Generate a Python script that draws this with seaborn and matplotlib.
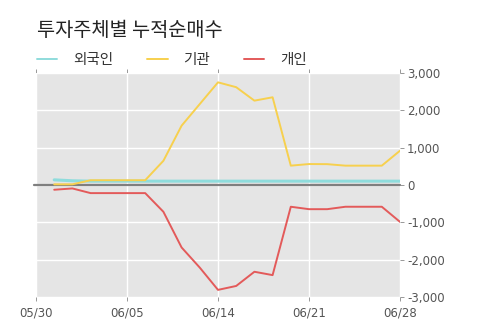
import matplotlib
matplotlib.use("Agg")
import matplotlib.pyplot as plt
import seaborn as sns
import pandas as pd
import numpy as np
from matplotlib.lines import Line2D

# data
tick_labels = ["05/30", "06/05", "06/14", "06/21", "06/28"]
tick_pos = [-1, 4, 9, 14, 19]
foreign = [140, 115, 105, 105, 105, 105, 105, 105, 105, 105,
           105, 105, 105, 105, 105, 105, 105, 105, 105, 105]
institution = [20, 20, 130, 130, 130, 130, 650, 1590, 2170, 2750,
               2620, 2260, 2350, 520, 563, 560, 520, 520, 520, 920]
individual = [-125, -90, -215, -215, -215, -215, -715, -1670, -2210, -2805,
              -2700, -2320, -2410, -580, -645, -645, -580, -580, -580, -985]
series_names = ["외국인", "기관", "개인"]
y_ticks = [-3000, -2000, -1000, 0, 1000, 2000, 3000]

sns.set_theme(style="darkgrid")
plt.rcParams['font.family'] = ['Noto Sans CJK KR', 'DejaVu Sans']

idx = list(range(len(foreign)))
df = pd.DataFrame({
    "x": idx * 3,
    "value": foreign + institution + individual,
    "series": [series_names[0]] * len(foreign) + [series_names[1]] * len(institution) + [series_names[2]] * len(individual),
})

fig = plt.figure(figsize=(5, 3.23), dpi=100)
ax = fig.add_axes([0.072, 0.080, 0.728, 0.694])
ax.set_facecolor("#e5e5e5")

palette = {"외국인": "#8fdcdc", "기관": "#f7d04e", "개인": "#e35a5a"}
ax.axhline(0, xmin=-0.005, xmax=1.0, color="#7f7f7f", lw=1.6, zorder=1, clip_on=False)
sns.lineplot(data=df, x="x", y="value", hue="series", palette=palette,
             ax=ax, legend=False, zorder=3)
for line, lw in zip(ax.get_lines()[1:], [2.2, 1.4, 1.4]):
    line.set_linewidth(lw)

ax.set_xlim(-1, 19)
ax.set_ylim(-3000, 3000)
ax.set_xticks(tick_pos)
ax.set_xticklabels(tick_labels)
ax.set_yticks(y_ticks)
ax.set_yticklabels([f"{v:,}" for v in y_ticks])
ax.yaxis.tick_right()
ax.grid(True, color="white", lw=1)
ax.set_xlabel("")
ax.set_ylabel("")
for s in ax.spines.values():
    s.set_visible(False)
ax.tick_params(axis="both", which="both", length=3, width=0.6, color="#888888",
               labelsize=8.5, labelcolor="#555555", pad=2)
ax.tick_params(axis="x", top=True, bottom=True, pad=4)
ax.tick_params(axis="y", right=True, left=False)
for lab in ax.get_xticklabels() + ax.get_yticklabels():
    lab.set_family(['DejaVu Sans'])

fig.text(0.074, 0.905, "투자주체별 누적순매수", fontsize=14.2, color="#222222", va="center")

handles = [Line2D([0], [0], color=palette[n], lw=1.4) for n in series_names]
fig.legend(handles, series_names, loc="center left", bbox_to_anchor=(0.074, 0.815),
           ncol=3, frameon=False, fontsize=10.5, handlelength=1.4, columnspacing=2.3,
           handletextpad=1.1, labelcolor="#333333", borderaxespad=0, borderpad=0)

fig.savefig("out.png", dpi=100)
